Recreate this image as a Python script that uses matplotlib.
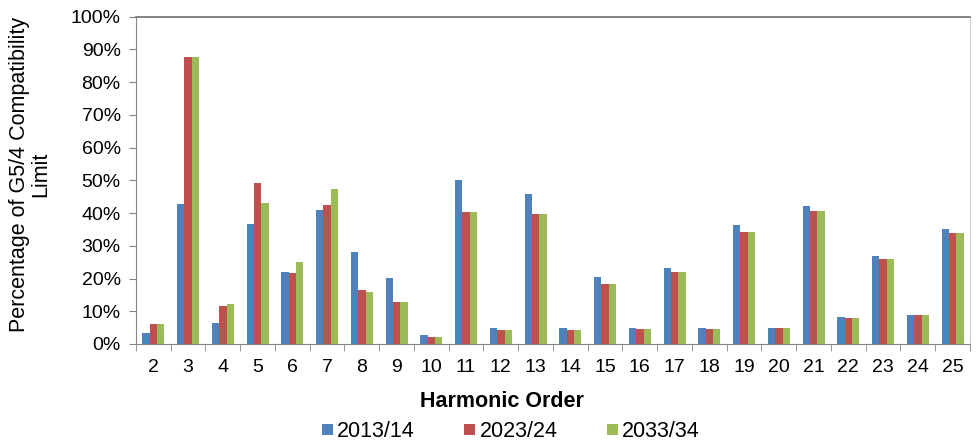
import numpy as np
import matplotlib.pyplot as plt

plt.rcParams['font.family'] = ['Liberation Sans', 'DejaVu Sans']

harmonics = list(range(2, 26))
years = ['2013/14', '2023/24', '2033/34']
colors = ['#4F81BD', '#C0504D', '#9BBB59']

# % of G5/4 compatibility limit per harmonic order
y2013 = [3.5, 42.8, 6.3, 36.6, 21.9, 40.8, 28.0, 20.3, 2.6, 50.0, 4.9, 45.7,
         4.9, 20.4, 4.9, 23.2, 4.9, 36.3, 4.9, 42.1, 8.2, 26.8, 8.9, 35.0]
y2023 = [6.0, 87.7, 11.5, 49.3, 21.6, 42.5, 16.4, 12.8, 2.0, 40.2, 4.3, 39.8,
         4.3, 18.3, 4.6, 21.9, 4.6, 34.3, 4.9, 40.5, 7.8, 25.9, 8.9, 33.9]
y2033 = [6.0, 87.7, 12.1, 43.1, 25.2, 47.4, 16.0, 12.8, 2.0, 40.2, 4.3, 39.8,
         4.3, 18.3, 4.6, 21.9, 4.6, 34.3, 4.9, 40.5, 7.8, 25.9, 8.9, 33.9]

fig = plt.figure(figsize=(9.79, 4.43), dpi=100)
ax = fig.add_axes([136 / 979, 1 - 344 / 443, (970 - 136) / 979, (344 - 16.7) / 443])

x = np.arange(len(harmonics))
w = 0.211
for i, (vals, c, lab) in enumerate(zip([y2013, y2023, y2033], colors, years)):
    ax.bar(x + (i - 1) * w, vals, w, color=c, label=lab, zorder=2)

ax.set_xlim(-0.5, len(harmonics) - 0.5)
ax.set_ylim(0, 100)
ax.set_yticks(np.arange(0, 101, 10))
ax.set_yticklabels([f'{v}%' for v in range(0, 101, 10)], fontsize=14)
ax.set_xticks(x)
ax.set_xticklabels([str(h) for h in harmonics], fontsize=14)
ax.set_xticks(np.arange(-0.5, len(harmonics), 1), minor=True)
ax.tick_params(axis='x', which='major', length=0, pad=11)
ax.tick_params(axis='x', which='minor', length=5, color='#868686', direction='out')
ax.tick_params(axis='y', length=5, color='#868686', direction='out', pad=6)

for side in ['left', 'bottom']:
    ax.spines[side].set_color('#868686')
ax.spines['top'].set_color('#6e6e6e')
ax.spines['top'].set_linewidth(1.2)
ax.spines['right'].set_color('#d0d0d0')

ax.set_xlabel('Harmonic Order', fontsize=15.5, fontweight='bold')
ax.xaxis.set_label_coords((502 - 136) / 834, -0.143)

fig.text(30 / 979, 1 - 174 / 443, 'Percentage of G5/4 Compatibility\nLimit',
         rotation=90, ha='center', va='center', fontsize=15.5, linespacing=1.0)

# square legend keys
ax.legend(loc='center', bbox_to_anchor=((511 - 136) / 834, -0.268), ncol=3,
          frameon=False, fontsize=15.5, handlelength=0.5, handleheight=0.39,
          handletextpad=0.2, columnspacing=2.3, borderpad=0)

fig.savefig('out.png', dpi=100)
